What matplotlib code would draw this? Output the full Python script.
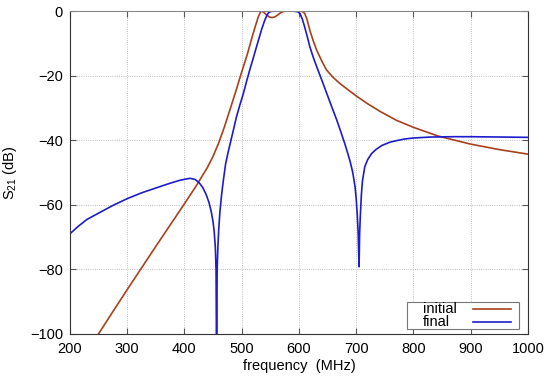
import matplotlib
matplotlib.use('Agg')
from matplotlib import pyplot as plt
from matplotlib.patches import Rectangle

plt.rcParams['font.family'] = ['Liberation Sans', 'DejaVu Sans']
plt.rcParams['mathtext.fontset'] = 'custom'
plt.rcParams['mathtext.rm'] = 'Liberation Sans'
plt.rcParams['mathtext.it'] = 'Liberation Sans'

# initial response
freq_initial = [250, 275, 300, 325, 350, 375, 400, 420, 440, 450, 460, 470,
                480, 490, 500, 510, 518, 524, 529, 533, 535, 538, 543, 548,
                553, 558, 563, 568, 573, 580, 600, 606, 610, 614, 619, 625,
                631, 640, 648, 660, 672, 689, 701, 720, 741, 770, 800, 843,
                900, 950, 1000]
s21_initial = [-100, -93.1, -86.3, -79.6, -72.9, -66.3, -59.7, -54.3, -48.5,
               -45, -40.8, -35.8, -30.3, -24.7, -18.9, -13.3, -8.2, -4.6,
               -1.8, -0.2, 0, -0.3, -1.1, -1.8, -2.0, -1.8, -1.2, -0.5,
               -0.1, 0, 0, -0.1, -0.7, -2.5, -5.9, -9.2, -12.1, -15.5,
               -18.2, -20.6, -22.5, -24.8, -26.4, -28.7, -31, -33.8, -36,
               -38.7, -41.2, -42.9, -44.3]

# final response
freq_final = [200, 215, 230, 250, 275, 300, 325, 350, 370, 390, 400, 410,
              418, 425, 432, 438, 443, 447, 450, 452, 454, 455.3, 456.2,
              457.2, 458.5, 460, 462, 465, 468, 472, 476, 480, 486, 491,
              497, 503, 509, 514, 520, 526, 531, 535, 540, 544, 547, 551,
              560, 590, 598, 602, 606, 610, 615, 619, 625, 631, 640, 648,
              657, 666, 673, 680, 686, 690, 694, 698, 700, 702, 703.5, 705,
              706, 707.2, 709, 711, 715, 720, 727, 735, 745, 759, 771, 785,
              800, 830, 870, 900, 950, 1000]
s21_final = [-69, -66.6, -64.5, -62.6, -60.2, -58.1, -56.3, -54.8, -53.6,
             -52.5, -52.1, -51.8, -52.1, -53, -54.6, -56.8, -59.3, -62.2,
             -65.2, -68.2, -73, -80, -110, -80, -73, -67.5, -62.3, -56.8,
             -52.5, -47.3, -44, -41, -36.5, -32.7, -29, -25.5, -21.5,
             -18.3, -14.7, -11, -8, -5.6, -3, -1.3, -0.5, -0.1, 0, 0,
             -0.2, -0.8, -2.5, -4.9, -8.2, -11, -14.3, -17.2, -21.4,
             -25.2, -29.5, -33.7, -37.3, -41, -44.5, -47, -50, -54.4, -58,
             -63.5, -69, -79.2, -69, -63.5, -57, -52.5, -48.2, -46, -44.1,
             -42.8, -41.6, -40.6, -40.1, -39.6, -39.3, -39.0, -38.9, -38.9,
             -39, -39.1]

labels = ['initial', 'final']
colors = ['#a8401c', '#1c1ccc']
x_ticks = [200, 300, 400, 500, 600, 700, 800, 900, 1000]
y_ticks = [0, -20, -40, -60, -80, -100]

fig = plt.figure(figsize=(5.5, 3.83), dpi=100)
ax = fig.add_axes([0.127, 0.128, 0.833, 0.843])

ax.plot(freq_initial, s21_initial, c=colors[0], lw=1.2)
ax.plot(freq_final, s21_final, c=colors[1], lw=1.2)

ax.set_xlim(200, 1000)
ax.set_ylim(-100, 0)
ax.set_xticks(x_ticks)
ax.set_yticks(y_ticks)
ax.grid(True, ls=':', lw=0.6, color='#aaaaaa')
ax.tick_params(axis='both', direction='in', top=True, right=True,
               labelsize=10.5, length=4, color='#555555')
ax.tick_params(axis='x', pad=6)
ax.tick_params(axis='y', pad=5)
for side in ['left', 'bottom', 'right']:
    ax.spines[side].set_color('#333333')
ax.spines['top'].set_color('#888888')

ax.set_xlabel('frequency  (MHz)', fontsize=10.5, labelpad=2)
ax.set_ylabel('S$_{21}$ (dB)', fontsize=10.5, labelpad=8)

# gnuplot style key: text left, line sample right
ax.add_patch(Rectangle((0.736, 0.015), 0.244, 0.084, transform=ax.transAxes,
                       facecolor='white', edgecolor='#777777', lw=0.8,
                       zorder=5))
rows = [0.077, 0.036]
for lab, col, yy in zip(labels, colors, rows):
    ax.text(0.771, yy, lab, transform=ax.transAxes, fontsize=10.5,
            va='center', ha='left', zorder=6)
    ax.plot([0.880, 0.963], [yy, yy], transform=ax.transAxes, c=col,
            lw=1.2, zorder=6, clip_on=False)

fig.savefig('out.png', dpi=100)
